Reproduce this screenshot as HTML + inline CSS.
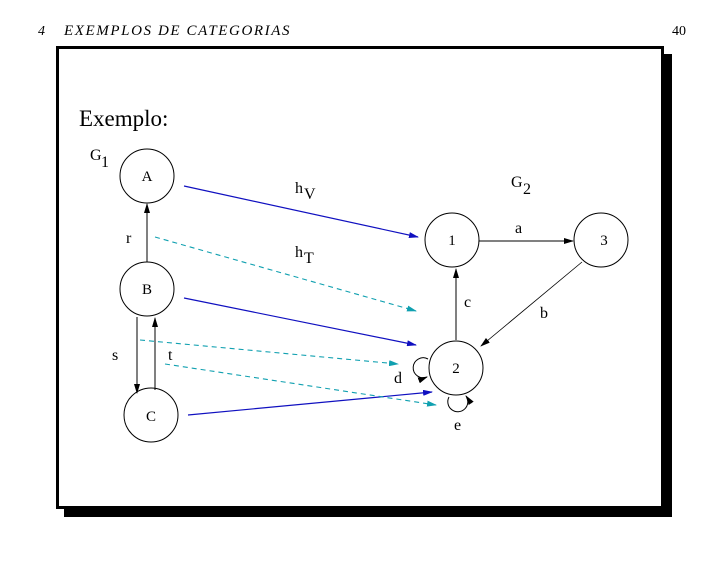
<!DOCTYPE html>
<html><head><style>
body{margin:0;width:728px;height:563px;background:#fff;overflow:hidden}
</style></head><body>
<svg width="728" height="563" viewBox="0 0 728 563" xmlns="http://www.w3.org/2000/svg" font-family="Liberation Serif, serif">
<defs>
<marker id="k" markerWidth="10" markerHeight="6" refX="9" refY="3" orient="auto" markerUnits="userSpaceOnUse"><path d="M0,0 L10,3 L0,6 z" fill="#000"/></marker>
<marker id="bl" markerWidth="10" markerHeight="6" refX="9" refY="3" orient="auto" markerUnits="userSpaceOnUse"><path d="M0,0 L10,3 L0,6 z" fill="#1010c0"/></marker>
<marker id="cy" markerWidth="10" markerHeight="6" refX="9" refY="3" orient="auto" markerUnits="userSpaceOnUse"><path d="M0,0 L10,3 L0,6 z" fill="#10a0b0"/></marker>
</defs>
<text x="38" y="35" font-size="14" font-style="italic">4</text>
<text x="64" y="35" font-size="15" font-style="italic" letter-spacing="1.6">EXEMPLOS DE CATEGORIAS</text>
<text x="672" y="35" font-size="14">40</text>
<rect x="64" y="54" width="608" height="463" fill="#000"/>
<rect x="57.5" y="47.5" width="605" height="460" fill="#fff" stroke="#000" stroke-width="3"/>
<text x="79" y="126" font-size="23">Exemplo:</text>
<g fill="none" stroke="#000" stroke-width="1">
<circle cx="147" cy="176" r="27"/><circle cx="147" cy="289" r="27"/><circle cx="151" cy="415" r="27"/>
<circle cx="452" cy="240" r="27"/><circle cx="601" cy="240" r="27"/><circle cx="456" cy="368" r="27"/>
<line x1="147" y1="262" x2="147" y2="204" marker-end="url(#k)"/>
<line x1="137" y1="317" x2="137" y2="393" marker-end="url(#k)"/>
<line x1="155" y1="390" x2="155" y2="318" marker-end="url(#k)"/>
<line x1="479" y1="241" x2="573" y2="241" marker-end="url(#k)"/>
<line x1="582" y1="262" x2="481" y2="346" stroke-width="0.8" marker-end="url(#k)"/>
<line x1="456" y1="340" x2="456" y2="269" marker-end="url(#k)"/>
<path d="M428,359 A10,10 0 1 0 427,377" marker-end="url(#k)"/>
<path d="M449,397 A10,10 0 1 0 466,396" marker-end="url(#k)"/>
</g>
<g stroke="#1010c0" stroke-width="1.2" fill="none">
<line x1="184" y1="186" x2="418" y2="237" marker-end="url(#bl)"/>
<line x1="184" y1="298" x2="416" y2="345" marker-end="url(#bl)"/>
<line x1="188" y1="415" x2="432" y2="392" marker-end="url(#bl)"/>
</g>
<g stroke="#10a0b0" stroke-width="1.1" fill="none" stroke-dasharray="5,4">
<line x1="155" y1="237" x2="416" y2="311" marker-end="url(#cy)"/>
<line x1="140" y1="340" x2="398" y2="364" marker-end="url(#cy)"/>
<line x1="165" y1="364" x2="436" y2="405" marker-end="url(#cy)"/>
</g>
<g font-size="15" text-anchor="middle">
<text x="147" y="181">A</text><text x="147" y="294">B</text><text x="151" y="421">C</text>
<text x="452" y="245">1</text><text x="604" y="245">3</text><text x="456" y="373">2</text>
</g>
<g font-size="16">
<text x="90" y="160">G</text><text x="101" y="167">1</text>
<text x="511" y="187">G</text><text x="523" y="194">2</text>
<text x="295" y="193">h</text><text x="304" y="199">V</text>
<text x="295" y="257">h</text><text x="304" y="263">T</text>
<text x="515" y="233">a</text><text x="540" y="318">b</text><text x="464" y="307">c</text>
<text x="394" y="383">d</text><text x="454" y="430">e</text>
<text x="126" y="243">r</text><text x="112" y="360">s</text><text x="168" y="360">t</text>
</g>
</svg>
</body></html>
